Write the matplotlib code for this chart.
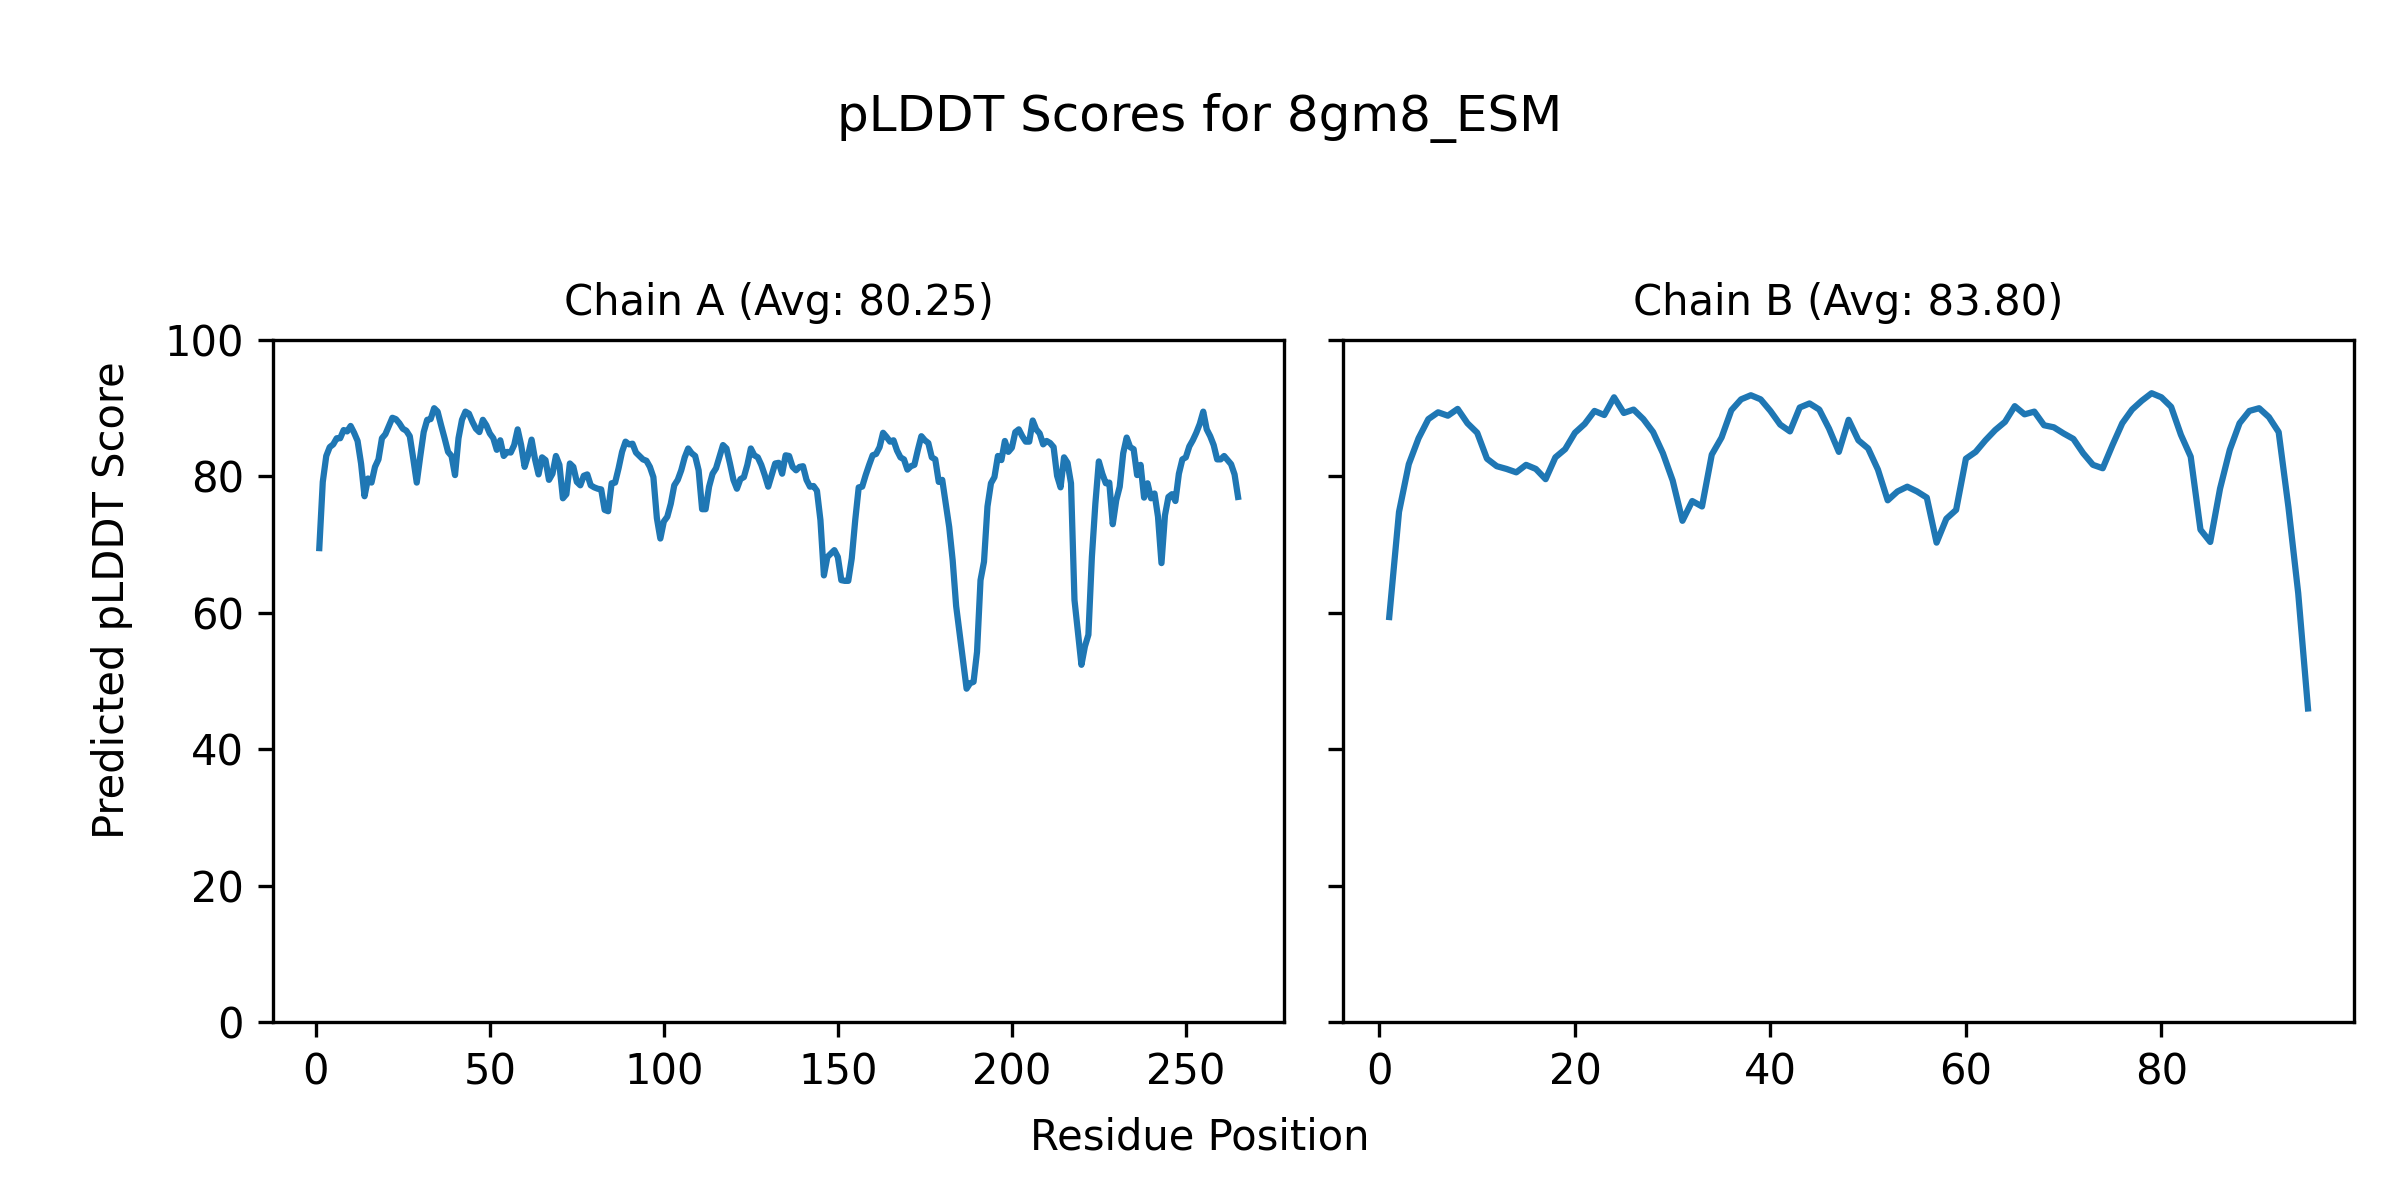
import matplotlib
matplotlib.use("Agg")
import matplotlib.pyplot as plt
import numpy as np

# ---- data ----
structure_name = "8gm8_ESM"
chain_names = ["A", "B"]
chain_avgs = [80.25, 83.80]

chain_a_plddt = [
    69.5, 79.2, 83.0, 84.3, 84.7, 85.6, 85.6, 86.8, 86.6, 87.4,
    86.4, 85.2, 81.9, 77.1, 79.7, 79.1, 81.4, 82.5, 85.6, 86.2,
    87.4, 88.6, 88.4, 87.8, 87.0, 86.7, 85.9, 82.6, 79.1, 82.9,
    86.5, 88.3, 88.4, 90.0, 89.5, 87.5, 85.6, 83.6, 83.0, 80.2,
    85.6, 88.3, 89.5, 89.2, 88.0, 87.0, 86.5, 88.3, 87.5, 86.3,
    85.6, 83.9, 85.3, 83.0, 83.6, 83.5, 84.6, 86.9, 84.6, 81.4,
    83.1, 85.4, 82.5, 80.3, 82.8, 82.4, 79.5, 80.4, 83.0, 81.7,
    76.8, 77.4, 81.9, 81.4, 79.2, 78.7, 80.1, 80.3, 78.7, 78.4,
    78.2, 78.1, 75.1, 74.9, 79.0, 79.1, 81.2, 83.6, 85.1, 84.7,
    84.8, 83.5, 83.0, 82.5, 82.3, 81.4, 79.9, 73.9, 70.9, 73.4,
    74.1, 76.0, 78.7, 79.5, 80.9, 82.8, 84.1, 83.4, 83.0, 80.9,
    75.2, 75.2, 78.5, 80.4, 81.2, 82.9, 84.6, 84.1, 81.9, 79.5,
    78.2, 79.6, 79.9, 81.7, 84.1, 83.1, 82.8, 81.7, 80.2, 78.5,
    80.2, 81.9, 82.0, 80.4, 83.1, 83.0, 81.4, 80.9, 81.4, 81.5,
    79.5, 78.5, 78.6, 77.9, 73.6, 65.5, 68.2, 68.7, 69.2, 68.2,
    64.8, 64.7, 64.7, 68.0, 73.6, 78.4, 78.5, 80.2, 81.7, 83.1,
    83.3, 84.3, 86.4, 85.8, 85.1, 85.3, 83.8, 82.8, 82.5, 81.0,
    81.5, 81.7, 83.9, 85.9, 85.3, 84.9, 82.8, 82.5, 79.2, 79.5,
    76.0, 72.6, 67.7, 61.0, 57.0, 53.0, 48.9, 49.7, 49.9, 54.3,
    64.8, 67.5, 75.6, 79.0, 79.9, 83.0, 82.4, 85.2, 83.6, 84.2,
    86.5, 86.9, 85.9, 85.1, 85.1, 88.2, 86.9, 86.3, 84.7, 85.2,
    84.9, 84.3, 80.1, 78.4, 82.8, 82.0, 79.0, 61.9, 57.2, 52.4,
    55.1, 56.8, 68.2, 76.0, 82.2, 80.4, 79.0, 79.1, 73.0, 76.5,
    78.5, 83.4, 85.7, 84.3, 84.0, 80.2, 81.7, 76.9, 79.0, 76.8,
    77.5, 74.1, 67.3, 74.3, 77.0, 77.4, 76.4, 80.4, 82.5, 82.8,
    84.4, 85.3, 86.4, 87.7, 89.5, 86.9, 85.9, 84.6, 82.5, 82.5,
    83.0, 82.4, 81.8, 80.3, 77.0,
]

chain_b_plddt = [
    59.4, 74.8, 81.8, 85.6, 88.4, 89.4, 88.9, 89.9, 87.8, 86.4,
    82.6, 81.5, 81.1, 80.6, 81.7, 81.1, 79.6, 82.8, 84.0, 86.4,
    87.7, 89.6, 89.0, 91.6, 89.3, 89.8, 88.4, 86.5, 83.4, 79.4,
    73.5, 76.4, 75.6, 83.2, 85.7, 89.7, 91.3, 91.9, 91.3, 89.6,
    87.6, 86.6, 90.1, 90.7, 89.8, 87.0, 83.6, 88.3, 85.3, 84.1,
    81.0, 76.5, 77.8, 78.5, 77.8, 76.9, 70.3, 73.8, 75.1, 82.6,
    83.6, 85.3, 86.8, 88.0, 90.3, 89.1, 89.5, 87.5, 87.2, 86.3,
    85.5, 83.4, 81.7, 81.2, 84.6, 87.8, 89.8, 91.1, 92.2, 91.6,
    90.2, 86.1, 82.9, 72.2, 70.4, 78.2, 83.9, 87.8, 89.6, 90.0,
    88.7, 86.5, 75.5, 62.9, 46.0,
]

chains = [chain_a_plddt, chain_b_plddt]

# ---- figure ----
plt.rcParams['font.family'] = ['DejaVu Sans']
fig, axes = plt.subplots(1, 2, figsize=(8, 4), dpi=300, sharey=True)
fig.subplots_adjust(left=0.1139, right=0.9808, top=0.7167, bottom=0.148,
                    wspace=0.0587)

for ax, name, avg, vals in zip(axes, chain_names, chain_avgs, chains):
    positions = np.arange(1, len(vals) + 1)
    ax.plot(positions, vals, color='#1f77b4', linewidth=1.5)
    ax.set_title(f"Chain {name} (Avg: {avg:.2f})", fontsize=10)
    ax.set_ylim(0, 100)
    ax.tick_params(labelsize=10)

fig.suptitle(f"pLDDT Scores for {structure_name}", fontsize=12, y=0.9017, va='center')
fig.text(0.5, 0.0525, "Residue Position", ha='center', va='center', fontsize=10)
fig.text(0.0466, 0.5, "Predicted pLDDT Score", ha='center', va='center',
         rotation=90, fontsize=10)

fig.savefig("out.png", dpi=300)
